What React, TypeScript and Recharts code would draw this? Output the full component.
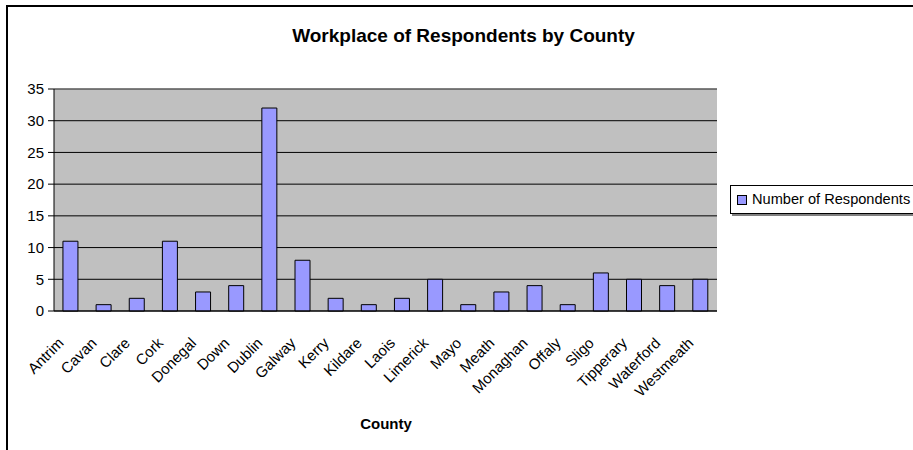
import { Bar, BarChart, CartesianGrid, Legend, ReferenceLine, XAxis, YAxis } from "recharts";

const counties = [
  "Antrim", "Cavan", "Clare", "Cork", "Donegal", "Down", "Dublin", "Galway", "Kerry", "Kildare",
  "Laois", "Limerick", "Mayo", "Meath", "Monaghan", "Offaly", "Sligo", "Tipperary", "Waterford", "Westmeath",
];
const respondents = [11, 1, 2, 11, 3, 4, 32, 8, 2, 1, 2, 5, 1, 3, 4, 1, 6, 5, 4, 5];
const yTicks = [0, 5, 10, 15, 20, 25, 30, 35];
const boundaryTicks = counties.map((_, i) => i).concat([counties.length]);

const data = counties.map((county, i) => ({ county, value: respondents[i] }));

const FONT = '"Liberation Sans", Arial, sans-serif';

function CountyTick({ x, y, payload }: any) {
  return (
    <g transform={`translate(${x - 6},${y + 33}) rotate(-45)`}>
      <text x={0} y={0} textAnchor="end" fontSize={15} fontFamily={FONT} fill="#000">
        {payload.value}
      </text>
    </g>
  );
}

function LegendBox() {
  return (
    <div
      style={{
        width: 200,
        height: 27,
        border: "1px solid #000",
        boxShadow: "2px 2px 0 #808080",
        background: "#fff",
        position: "relative",
        fontFamily: FONT,
        fontSize: 14.6,
      }}
    >
      <div
        style={{
          position: "absolute",
          left: 6,
          top: 9,
          width: 8,
          height: 8,
          background: "#9999FF",
          border: "1px solid #000",
        }}
      />
      <div style={{ position: "absolute", left: 21, top: 5, lineHeight: "17px", whiteSpace: "nowrap" }}>
        Number of Respondents
      </div>
    </div>
  );
}

export default function App() {
  return (
    <div
      style={{
        position: "absolute",
        left: 0,
        top: 0,
        width: 913,
        height: 450,
        overflow: "hidden",
        background: "#fff",
        fontFamily: FONT,
      }}
    >
      <div
        style={{
          position: "absolute",
          left: 0,
          width: 927,
          top: 26,
          textAlign: "center",
          fontWeight: "bold",
          fontSize: 19,
          lineHeight: "19px",
        }}
      >
        Workplace of Respondents by County
      </div>
      <div
        style={{
          position: "absolute",
          left: 286,
          width: 200,
          top: 416,
          textAlign: "center",
          fontWeight: "bold",
          fontSize: 15,
          lineHeight: "15px",
        }}
      >
        County
      </div>
      <div style={{ position: "absolute", left: 0, top: 0 }}>
        <BarChart
          width={913}
          height={450}
          data={data}
          margin={{ top: 89, right: 196, left: 0, bottom: 0 }}
          barCategoryGap="27%"
        >
          <CartesianGrid
            xAxisId="cat"
            yAxisId="left"
            vertical={false}
            stroke="#000"
            fill="#C0C0C0"
            fillOpacity={1}
          />
          <XAxis
            xAxisId="edge"
            type="number"
            domain={[0, counties.length]}
            allowDataOverflow
            ticks={boundaryTicks}
            height={1}
            tick={false}
            tickSize={5}
            tickLine={{ stroke: "#000" }}
            axisLine={false}
          />
          <XAxis
            xAxisId="cat"
            dataKey="county"
            interval={0}
            height={109}
            tickSize={0}
            tickMargin={0}
            tickLine={false}
            axisLine={{ stroke: "#000" }}
            tick={<CountyTick />}
          />
          <YAxis
            yAxisId="left"
            domain={[0, 35]}
            ticks={yTicks}
            width={54}
            tickSize={6}
            tickMargin={4}
            tick={{ fill: "#000", fontSize: 15, fontFamily: FONT }}
            tickLine={{ stroke: "#000" }}
            axisLine={{ stroke: "#000" }}
          />
          <YAxis
            yAxisId="right"
            orientation="right"
            width={0}
            domain={[0, 35]}
            tick={false}
            tickLine={false}
            axisLine={{ stroke: "#808080" }}
          />
          <ReferenceLine xAxisId="cat" yAxisId="left" y={35} stroke="#808080" />
          <Legend
            content={<LegendBox />}
            wrapperStyle={{ position: "absolute", left: 730, top: 185, width: 200, height: 29 }}
          />
          <Bar
            xAxisId="cat"
            yAxisId="left"
            dataKey="value"
            name="Number of Respondents"
            fill="#9999FF"
            stroke="#000"
            strokeWidth={1}
            isAnimationActive={false}
          />
        </BarChart>
      </div>
      <div
        style={{
          position: "absolute",
          left: 6,
          top: 5,
          width: 1000,
          height: 1000,
          border: "2px solid #000",
          zIndex: 5,
          pointerEvents: "none",
        }}
      />
    </div>
  );
}
